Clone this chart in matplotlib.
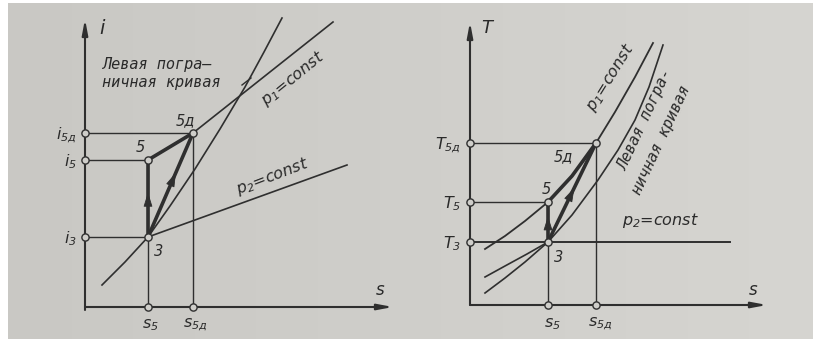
import numpy as np
import matplotlib
matplotlib.use("Agg")
import matplotlib.pyplot as plt

plt.rcParams['mathtext.fontset'] = 'custom'
plt.rcParams['mathtext.rm'] = 'DejaVu Sans:italic'
plt.rcParams['mathtext.it'] = 'DejaVu Sans:italic'

W, H, DPI = 817, 343, 100

# ---------------- i-s diagram ----------------
is_state = ['3', '5', '5д']
is_s = [6.3, 6.3, 10.8]
is_i = [7.0, 14.7, 17.4]

is_boundary_s = [1.7, 4.0, 6.3, 8.5, 11.0, 13.5, 16.0, 17.9, 19.7]
is_boundary_i = [2.2, 4.5, 7.0, 10.1, 13.8, 17.8, 22.0, 25.5, 28.9]
is_p1_s = [10.8, 24.8]
is_p1_i = [17.4, 28.5]
is_p2_s = [6.3, 26.2]
is_p2_i = [7.0, 14.2]

is_ylabels = [r'$i_3$', r'$i_5$', r'$i_{5д}$']
is_xlabels = [r'$s_5$', r'$s_{5д}$']

# ---------------- T-s diagram ----------------
ts_state = ['3', '5', '5д']
ts_s = [7.8, 7.8, 12.6]
ts_T = [6.3, 10.3, 16.2]

ts_p1_s = [1.5, 3.5, 5.5, 7.8, 10.2, 12.6, 14.5, 16.5, 18.3]
ts_p1_T = [5.6, 6.9, 8.4, 10.3, 12.9, 16.2, 19.3, 22.8, 26.2]
ts_boundary_s = [1.5, 3.5, 5.5, 7.8, 10.2, 12.8, 14.8, 16.5, 17.9, 19.3]
ts_boundary_T = [1.2, 2.7, 4.3, 6.3, 9.0, 12.5, 15.5, 18.5, 21.8, 26.0]
ts_p2_liquid_s = [1.5, 3.5, 5.7, 7.8]
ts_p2_liquid_T = [2.8, 3.9, 5.1, 6.3]
ts_p2_end = 26.0

ts_ylabels = [r'$T_3$', r'$T_5$', r'$T_{5д}$']
ts_xlabels = [r'$s_5$', r'$s_{5д}$']

INK = '#2f2f2f'
TXT = '#2a2a2a'
PAPER = '#cfceca'

fig = plt.figure(figsize=(W / DPI, H / DPI), dpi=DPI)
fig.patch.set_facecolor('white')

# paper background
bg = fig.add_axes([0, 0, 1, 1])
bg.set_xlim(0, W)
bg.set_ylim(H, 0)
bg.axis('off')
shade = np.linspace(0, 1, 200)
c0 = np.array([201, 200, 196]) / 255
c1 = np.array([214, 213, 209]) / 255
grad = (c0[None, :] * (1 - shade[:, None]) + c1[None, :] * shade[:, None])[None, :, :]
bg.imshow(grad, extent=(8, 813, 339, 3), aspect='auto', interpolation='bicubic')


def panel(ox, oy, unit=10.0):
    ax = fig.add_axes([0, 0, 1, 1])
    ax.set_xlim(-ox / unit, (W - ox) / unit)
    ax.set_ylim(-(H - oy) / unit, oy / unit)
    ax.axis('off')
    ax.patch.set_alpha(0)
    return ax


def axis_arrow(ax, start, end):
    ax.annotate('', xy=end, xytext=start,
                arrowprops=dict(arrowstyle='-|>,head_length=0.9,head_width=0.17',
                                lw=1.5, color=INK, shrinkA=0, shrinkB=0))


def mid_arrow(ax, p0, p1, frac):
    p0 = np.array(p0, float)
    p1 = np.array(p1, float)
    tip = p0 + (p1 - p0) * frac
    tail = tip - (p1 - p0) / np.linalg.norm(p1 - p0) * 1.0
    ax.annotate('', xy=tip, xytext=tail, zorder=7,
                arrowprops=dict(arrowstyle='-|>,head_length=0.9,head_width=0.28',
                                lw=0.6, color=INK, shrinkA=0, shrinkB=0))


def ring(ax, x, y):
    ax.plot(x, y, 'o', ms=5.2, mfc=PAPER, mec=INK, mew=1.0, zorder=6)


fkw = dict(color=TXT, style='italic', family='DejaVu Sans')
mono = dict(color=TXT, style='italic', family='DejaVu Sans Mono')
thin = dict(color=INK, lw=1.0, solid_capstyle='round')
thick = dict(color=INK, lw=2.6, solid_capstyle='round', solid_joinstyle='round')

# ================= left: i-s =================
ax = panel(85, 307)

axis_arrow(ax, (0, -0.3), (0, 28.8))
axis_arrow(ax, (0, 0), (30.8, 0))
ax.text(1.7, 27.9, 'i', fontsize=14, ha='center', va='center', **fkw)
ax.text(29.5, 1.7, 's', fontsize=12, ha='center', va='center', **fkw)

# guide lines to the axes
for s, i in zip(is_s, is_i):
    ax.plot([0, s], [i, i], **thin)
ax.plot([is_s[1], is_s[1]], [0, is_i[1]], **thin)
ax.plot([is_s[2], is_s[2]], [0, is_i[2]], **thin)

ax.plot(is_boundary_s, is_boundary_i, color=INK, lw=1.2)
ax.plot(is_p1_s, is_p1_i, color=INK, lw=1.2)
ax.plot(is_p2_s, is_p2_i, color=INK, lw=1.2)

# process 3-5, 5-5д, 3-5д
ax.plot([is_s[0], is_s[1], is_s[2]], [is_i[0], is_i[1], is_i[2]], **thick)
ax.plot([is_s[0], is_s[2]], [is_i[0], is_i[2]], **thick)
mid_arrow(ax, (is_s[0], is_i[0]), (is_s[1], is_i[1]), 0.58)
mid_arrow(ax, (is_s[0], is_i[0]), (is_s[2], is_i[2]), 0.62)

for s, i in zip(is_s, is_i):
    ring(ax, s, i)
    ring(ax, 0, i)
ring(ax, is_s[1], 0)
ring(ax, is_s[2], 0)

for lab, i in zip(is_ylabels, is_i):
    ax.text(-0.8, i - 0.2, lab, fontsize=11.5, ha='right', va='center', **fkw)
for lab, s in zip(is_xlabels, [is_s[1], is_s[2]]):
    ax.text(s + 0.2, -1.8, lab, fontsize=11.5, ha='center', va='center', **fkw)

ax.text(5.5, 16.0, '5', fontsize=10.5, ha='center', va='center', **fkw)
ax.text(10.0, 18.6, '5д', fontsize=10.5, ha='center', va='center', **fkw)
ax.text(7.4, 5.6, '3', fontsize=10.5, ha='center', va='center', **fkw)

ax.text(20.8, 22.9, r'$p_1$=const', fontsize=11.5, rotation=39,
        ha='center', va='center', rotation_mode='anchor', **fkw)
ax.text(18.8, 13.1, r'$p_2$=const', fontsize=11.5, rotation=21,
        ha='center', va='center', rotation_mode='anchor', **fkw)

ax.text(1.7, 24.2, 'Левая погра—', fontsize=11, ha='left', va='center', **mono)
ax.text(1.7, 22.4, 'ничная кривая', fontsize=11, ha='left', va='center', **mono)
ax.plot([15.7, 16.6], [22.2, 22.9], color=INK, lw=1.0)

# ================= right: T-s =================
bx = panel(470, 305)
axis_arrow(bx, (0, 0), (0, 28.3))
axis_arrow(bx, (0, 0), (29.7, 0))
bx.text(1.7, 27.7, 'T', fontsize=13, ha='center', va='center', **fkw)
bx.text(28.3, 1.5, 's', fontsize=12, ha='center', va='center', **fkw)

bx.plot([0, ts_s[2]], [ts_T[2], ts_T[2]], **thin)
bx.plot([0, ts_s[1]], [ts_T[1], ts_T[1]], **thin)
bx.plot([ts_s[1], ts_s[1]], [0, ts_T[1]], **thin)
bx.plot([ts_s[2], ts_s[2]], [0, ts_T[2]], **thin)

bx.plot(ts_p1_s, ts_p1_T, color=INK, lw=1.3)
bx.plot(ts_boundary_s, ts_boundary_T, color=INK, lw=1.2)
bx.plot(ts_p2_liquid_s, ts_p2_liquid_T, color=INK, lw=1.2)
bx.plot([0, ts_p2_end], [ts_T[0], ts_T[0]], color=INK, lw=1.4)

# process lines
bx.plot([ts_s[0], ts_s[1]], [ts_T[0], ts_T[1]], **thick)
bx.plot(ts_p1_s[3:6], ts_p1_T[3:6], **thick)
bx.plot([ts_s[0], ts_s[2]], [ts_T[0], ts_T[2]], **thick)
mid_arrow(bx, (ts_s[0], ts_T[0]), (ts_s[1], ts_T[1]), 0.65)
mid_arrow(bx, (ts_s[0], ts_T[0]), (ts_s[2], ts_T[2]), 0.55)

for s, T in zip(ts_s, ts_T):
    ring(bx, s, T)
    ring(bx, 0, T)
ring(bx, ts_s[1], 0)
ring(bx, ts_s[2], 0)

for lab, T in zip(ts_ylabels, ts_T):
    bx.text(-0.9, T - 0.2, lab, fontsize=11.5, ha='right', va='center', **fkw)
for lab, s in zip(ts_xlabels, [ts_s[1], ts_s[2]]):
    bx.text(s + 0.4, -1.9, lab, fontsize=11.5, ha='center', va='center', **fkw)

bx.text(7.6, 11.5, '5', fontsize=10.5, ha='center', va='center', **fkw)
bx.text(9.3, 14.8, '5д', fontsize=10.5, ha='center', va='center', **fkw)
bx.text(8.9, 4.7, '3', fontsize=10.5, ha='center', va='center', **fkw)

bx.text(14.0, 22.8, r'$p_1$=const', fontsize=11.5, rotation=58,
        ha='center', va='center', rotation_mode='anchor', **fkw)
bx.text(17.5, 18.5, 'Левая погра-', fontsize=11, rotation=65,
        ha='center', va='center', rotation_mode='anchor', **mono)
bx.text(19.1, 16.5, 'ничная кривая', fontsize=11, rotation=65,
        ha='center', va='center', rotation_mode='anchor', **mono)
bx.text(19.1, 8.4, r'$p_2$=const', fontsize=11.5, ha='center', va='center', **fkw)

fig.savefig('out.png', dpi=DPI, facecolor=fig.get_facecolor())
